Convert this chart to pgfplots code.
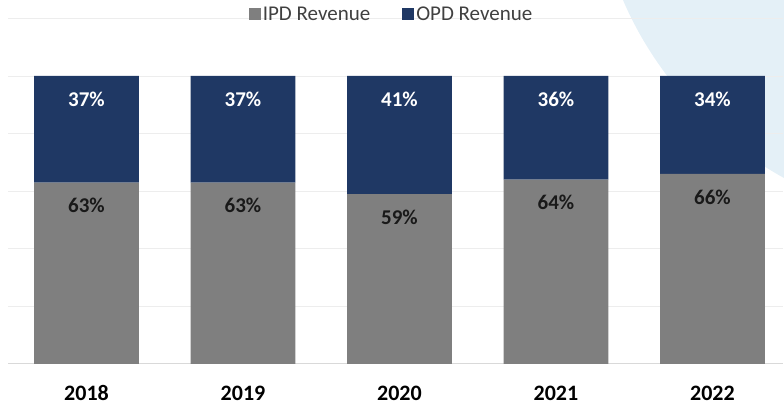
\documentclass[border=0pt]{standalone}
\usepackage{fontspec}
\setmainfont{Carlito}
\usepackage{pgfplots}
\pgfplotsset{compat=1.18}

\definecolor{ipd}{HTML}{7F7F7F}
\definecolor{opd}{HTML}{1F3864}
\definecolor{gridc}{HTML}{EDEDED}
\definecolor{basec}{HTML}{D9D9D9}
\definecolor{swoosh}{HTML}{E4F0F7}
\definecolor{legtext}{HTML}{404040}

\begin{document}
\begin{tikzpicture}
% faint background swoosh (axis box lower left is the origin, 1px = 1pt)
\fill[swoosh] (614.75pt,364pt) .. controls (646.75pt,289pt) and (706.75pt,224pt) .. (775.75pt,186pt)
    -- (775.75pt,364pt) -- cycle;
\begin{axis}[
    name=ax, at={(0,0)}, anchor=south west, clip=false,
    scale only axis, width=774.7pt, height=345.6pt,
    ybar stacked, bar width=0.67,
    xmin=-0.5, xmax=4.45, ymin=0, ymax=120,
    xtick={0,...,4},
    xticklabels={2018,2019,2020,2021,2022},
    xticklabel style={font=\fontsize{22}{26}\selectfont\bfseries, anchor=center, yshift=-29pt},
    major tick length=0pt,
    ytick={20,40,...,120}, yticklabels={},
    extra y ticks={0}, extra y tick labels={},
    extra y tick style={grid style={basec, line width=1pt}},
    ymajorgrids, grid style={gridc, line width=0.8pt},
    axis line style={draw=none},
    point meta=explicit,
    visualization depends on={rawy \as \segh},
    nodes near coords={\pgfmathprintnumber[assume math mode=true]{\pgfplotspointmeta}\%},
    legend columns=2,
    legend style={at={(0.5,1)}, anchor=center, xshift=-4pt, yshift=4pt, draw=none, fill=none,
        font=\fontsize{21}{24}\selectfont, text=legtext,
        /tikz/every even column/.append style={column sep=30pt}},
]
% labels sit ~23px below the top of each segment (nodes start at segment middle)
\addplot[fill=ipd, draw=none,
    nodes near coords style={font=\fontsize{21}{24}\selectfont\bfseries, text=black!90, anchor=center, yshift={1.44*\segh*1pt-23pt}},
    legend image code/.code={\fill[fill=ipd] (-6pt,-6pt) rectangle (6pt,6pt);}]
    coordinates {(0,63)[63] (1,63)[63] (2,59)[59] (3,64)[64] (4,66)[66]};
\addplot[fill=opd, draw=none,
    nodes near coords style={font=\fontsize{21}{24}\selectfont\bfseries, text=white, anchor=center, yshift={1.44*\segh*1pt-23pt}},
    legend image code/.code={\fill[fill=opd] (-6pt,-6pt) rectangle (6pt,6pt);}]
    coordinates {(0,37)[37] (1,37)[37] (2,41)[41] (3,36)[36] (4,34)[34]};
\legend{IPD Revenue, OPD Revenue}
\end{axis}
\pgfresetboundingbox
\path[use as bounding box] ([xshift=-8.25pt,yshift=18.4pt]ax.north west) rectangle ([xshift=1.1pt,yshift=-42pt]ax.south east);
\end{tikzpicture}
\end{document}
